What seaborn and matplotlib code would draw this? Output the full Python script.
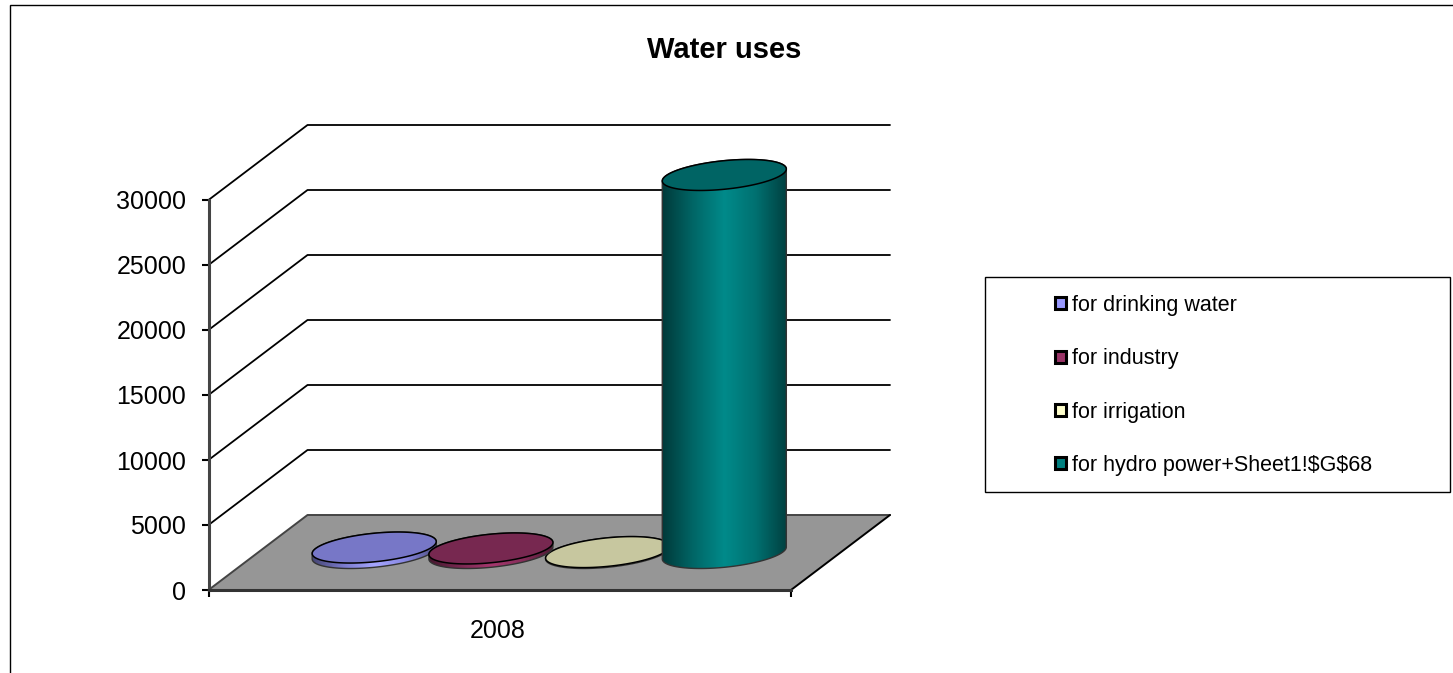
import numpy as np
import pandas as pd
import matplotlib
matplotlib.use('Agg')
import matplotlib.pyplot as plt
import seaborn as sns
from matplotlib.colors import LinearSegmentedColormap, to_rgb
from matplotlib.patches import Patch, PathPatch, Polygon, Rectangle
from matplotlib.path import Path

# values
uses = ['for drinking water', 'for industry', 'for irrigation', 'for hydro power+Sheet1!$G$68']
water = [420, 350, 70, 29080]
colors = ['#9999FF', '#993366', '#FFFFCC', '#008080']
year = '2008'
y_ticks = [0, 5000, 10000, 15000, 20000, 25000, 30000]

W, H = 1453, 673
PX_PER_UNIT = 390 / 30000


def box(left, top, right, bottom):
    # pixel box (y down) to figure fractions
    return [left / W, 1 - bottom / H, (right - left) / W, (bottom - top) / H]


sns.set_theme(style='white')
plt.rcParams['font.family'] = ['Liberation Sans', 'DejaVu Sans']

fig = plt.figure(figsize=(W / 100, H / 100), dpi=100)
fig.patch.set_facecolor('white')

# chart frame, runs off the right and bottom of the image
fig.add_artist(Rectangle((10 / W, -0.1), 1.1, 1.1 - 5.5 / H, transform=fig.transFigure,
                         fill=False, edgecolor='black', linewidth=1))
fig.text(724.5 / W, 1 - 50 / H, 'Water uses', fontsize=21, fontweight='bold',
         ha='center', va='center', color='black')

# front plane of the 3D box: axis, floor and walls
ax = fig.add_axes(box(208.5, 200, 791, 590))
ax.set_xlim(0, 1)
ax.set_ylim(0, 30000)
ax.patch.set_alpha(0)
depth_x = 99 / 582.5
depth_y = 75 / PX_PER_UNIT

for tick in y_ticks[1:]:
    ax.plot([0, depth_x, 1 + depth_x], [tick, tick + depth_y, tick + depth_y],
            color='black', lw=1.3, clip_on=False)
ax.add_patch(Polygon([(0, 0), (1, 0), (1 + depth_x, depth_y), (depth_x, depth_y)],
                     facecolor='#969696', edgecolor='none', clip_on=False))
ax.plot([0, depth_x, 1 + depth_x], [0, depth_y, depth_y], color='#444444', lw=1.4, clip_on=False)
ax.plot([1, 1 + depth_x], [0, depth_y], color='black', lw=1.4, clip_on=False)

sns.despine(ax=ax, top=True, right=True)
ax.spines['left'].set_linewidth(2.2)
ax.spines['left'].set_color('#444444')
ax.spines['bottom'].set_linewidth(2.2)
ax.spines['bottom'].set_color('#333333')
ax.set_yticks(y_ticks)
ax.set_xticks([0, 1], labels=['', ''])
ax.tick_params(axis='y', length=5, width=1.5, color='black', pad=11, labelsize=18, labelcolor='black', left=True)
ax.tick_params(axis='x', length=5, width=1.5, color='black', bottom=True)
ax.set_xlabel(year, fontsize=18, color='black')
ax.xaxis.set_label_coords(0.497, -0.075, transform=ax.transAxes)

# cylinders sit half way into the box
bar_ax = fig.add_axes(box(208.5 + 49.5, 553 - 390, 791 + 49.5, 553))
bar_ax.patch.set_alpha(0)
df = pd.DataFrame({'use': uses, 'water': water})
sns.barplot(data=df, x='use', y='water', hue='use', palette=colors, dodge=False,
            width=1.063, legend=False, ax=bar_ax)
span = 582.5 / 116.7 / 2
bar_ax.set_xlim(1.5 - span, 1.5 + span)
bar_ax.set_ylim(0, 30000)
bar_ax.set_autoscale_on(False)
bar_ax.axis('off')

# ellipse half height and tilt, in value units
ell_b = 14.3 / PX_PER_UNIT
ell_s = 6 / PX_PER_UNIT


def ellipse(cx, cy, half_w, t):
    return np.column_stack([cx + half_w * np.cos(t), cy + ell_b * np.sin(t) + ell_s * np.cos(t)])


# industry lies over its neighbours in the original
draw_order = [3, 5, 4, 6]

for bar, col, z in zip(list(bar_ax.patches), colors, draw_order):
    bar.set_visible(False)
    x0, half_w = bar.get_x(), bar.get_width() / 2
    cx = x0 + half_w
    value = bar.get_height()
    rgb = np.array(to_rgb(col))

    low = ellipse(cx, 0, half_w, np.linspace(np.pi, 2 * np.pi, 80))
    up = ellipse(cx, value, half_w, np.linspace(0, np.pi, 80))
    body = Path(np.vstack([low, up, low[:1]]), closed=True)
    patch = PathPatch(body, facecolor='none', edgecolor='#333333', lw=1.0, zorder=z + 0.2, clip_on=False)
    bar_ax.add_patch(patch)

    shades = [np.clip(rgb * f, 0, 1) for f in (0.45, 0.8, 1.08, 0.88, 0.5)]
    cmap = LinearSegmentedColormap.from_list('side', shades)
    im = bar_ax.imshow(np.linspace(0, 1, 256).reshape(1, -1), cmap=cmap, aspect='auto',
                       extent=(cx - half_w, cx + half_w, -2000, value + 2000), zorder=z)
    im.set_clip_box(fig.bbox)
    im.set_clip_path(PathPatch(body, transform=bar_ax.transData))

    bar_ax.add_patch(Polygon(ellipse(cx, value, half_w, np.linspace(0, 2 * np.pi, 160)),
                             facecolor=rgb * 0.78, edgecolor='black', lw=1.1, zorder=z + 0.4, clip_on=False))

# legend box, frame drawn apart because its padding is uneven
fig.add_artist(Rectangle((984.5 / W, 1 - 491.5 / H), 465 / W, 214.5 / H, transform=fig.transFigure,
                         facecolor='white', edgecolor='black', linewidth=1, zorder=1))
handles = [Patch(facecolor=c, edgecolor='black', linewidth=2.2, label=u.replace('$', r'\$'))
           for u, c in zip(uses, colors)]
leg = fig.legend(handles=handles, loc='upper left', bbox_to_anchor=(1055 / W, 1 - 295 / H),
                 frameon=False, fontsize=15.5, borderpad=0, borderaxespad=0,
                 handlelength=0.5, handleheight=0.5, handletextpad=0.3, labelspacing=1.5)
leg.set_zorder(5)
for text in leg.get_texts():
    text.set_color('black')

fig.savefig('out.png', dpi=100, facecolor='white')
